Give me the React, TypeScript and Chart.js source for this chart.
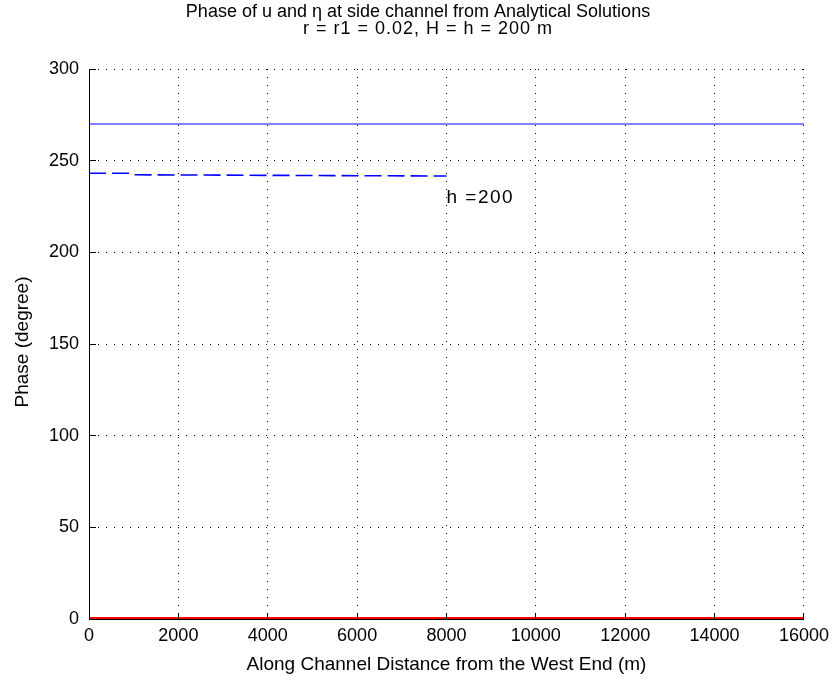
import React, { useEffect, useRef } from "react";
import { Chart, registerables } from "chart.js";

Chart.register(...registerables);

// ---- text ----
const TITLE_LINES = [
  "Phase of u and \u03B7 at side channel from Analytical Solutions",
  "r = r1 = 0.02, H = h = 200 m",
];
const X_LABEL = "Along Channel Distance from the West End (m)";
const Y_LABEL = "Phase (degree)";

// ---- ticks ----
const X_TICKS = [0, 2000, 4000, 6000, 8000, 10000, 12000, 14000, 16000];
const Y_TICKS = [0, 50, 100, 150, 200, 250, 300];

// ---- series ----
const solidX = [0, 16000];
const solidY = [270, 270];

const dashedX = [0, 900, 950, 2000, 4000, 6000, 8000];
const dashedY = [243.1, 243.1, 242.3, 242.2, 242.0, 241.8, 241.6];

const redX = [0, 16000];
const redY = [0, 0];

// ---- annotation ----
const NOTE_TEXT = "h =200";
const NOTE_X = 8000;
const NOTE_Y = 230;

const FONT = '"Liberation Sans", Arial, Helvetica, sans-serif';
const FS = 18;

const toPts = (xs: number[], ys: number[]) => xs.map((x, i) => ({ x, y: ys[i] }));

const matlabPlugin = {
  id: "matlabDecor",
  afterDraw(chart: any) {
    const ctx = chart.ctx;
    const xs = chart.scales.x;
    const ys = chart.scales.y;
    const a = chart.chartArea;
    ctx.save();
    // inward tick marks
    ctx.strokeStyle = "#000";
    ctx.lineWidth = 1;
    ctx.setLineDash([]);
    ctx.beginPath();
    X_TICKS.forEach((v) => {
      const px = Math.floor(xs.getPixelForValue(v)) + 0.5;
      ctx.moveTo(px, a.bottom);
      ctx.lineTo(px, a.bottom - 6);
    });
    Y_TICKS.forEach((v) => {
      const py = Math.floor(ys.getPixelForValue(v)) + 0.5;
      ctx.moveTo(a.left, py);
      ctx.lineTo(a.left + 7, py);
    });
    ctx.stroke();

    ctx.fillStyle = "#000";
    ctx.textBaseline = "middle";
    ctx.textAlign = "center";
    const cx = (a.left + a.right) / 2;
    // title
    ctx.font = `${FS}px ${FONT}`;
    ctx.fillText(TITLE_LINES[0], 418, 12);
    (ctx as any).letterSpacing = "1px";
    ctx.fillText(TITLE_LINES[1], 428, 29);
    (ctx as any).letterSpacing = "0px";
    // x label
    ctx.font = `19px ${FONT}`;
    ctx.fillText(X_LABEL, cx, 665);
    // y label
    ctx.save();
    ctx.font = `19px ${FONT}`;
    ctx.translate(23, (a.top + a.bottom) / 2 - 2);
    ctx.rotate(-Math.PI / 2);
    ctx.fillText(Y_LABEL, 0, 0);
    ctx.restore();
    // annotation
    ctx.font = `19px ${FONT}`;
    (ctx as any).letterSpacing = "1.5px";
    ctx.textAlign = "left";
    ctx.fillText(NOTE_TEXT, xs.getPixelForValue(NOTE_X), ys.getPixelForValue(NOTE_Y));
    (ctx as any).letterSpacing = "0px";
    ctx.restore();
  },
};

export default function App() {
  const ref = useRef<HTMLCanvasElement | null>(null);
  useEffect(() => {
    document.body.style.margin = "0";
    const canvas = ref.current!;
    const chart = new Chart(canvas, {
      type: "line",
      data: {
        datasets: [
          {
            data: toPts(solidX, solidY),
            borderColor: "#0000ff",
            borderWidth: 1,
            pointRadius: 0,
            tension: 0,
          },
          {
            data: toPts(dashedX, dashedY),
            borderColor: "#0000ff",
            borderWidth: 1.6,
            borderDash: [17, 6],
            pointRadius: 0,
            tension: 0,
          },
          {
            data: toPts(redX, redY),
            borderColor: "#ff0000",
            borderWidth: 4,
            pointRadius: 0,
            tension: 0,
            clip: { left: 0, top: 0, right: 0, bottom: 0 },
          } as any,
        ],
      },
      options: {
        animation: false,
        responsive: false,
        maintainAspectRatio: false,
        devicePixelRatio: 1,
        layout: { padding: { top: 69, right: 31, left: 0, bottom: 0 } },
        plugins: {
          legend: { display: false },
          tooltip: { enabled: false },
          title: { display: false },
        },
        scales: {
          x: {
            type: "linear",
            min: 0,
            max: 16000,
            afterBuildTicks: (s: any) => {
              s.ticks = X_TICKS.map((v) => ({ value: v }));
            },
            afterFit: (s: any) => {
              s.height = 65;
            },
            ticks: {
              color: "#000",
              padding: 6,
              maxRotation: 0,
              autoSkip: false,
              font: { family: FONT, size: FS },
              callback: (v: any) => String(v),
            },
            grid: { color: "#000", lineWidth: 1, drawTicks: false },
            border: { display: true, color: "#000", width: 1, dash: [1, 7] },
          },
          y: {
            type: "linear",
            min: 0,
            max: 300,
            afterBuildTicks: (s: any) => {
              s.ticks = Y_TICKS.map((v) => ({ value: v }));
            },
            afterFit: (s: any) => {
              s.width = 89;
            },
            ticks: {
              color: "#000",
              padding: 10,
              autoSkip: false,
              font: { family: FONT, size: FS },
              callback: (v: any) => String(v),
            },
            grid: { color: "#000", lineWidth: 1, drawTicks: false },
            border: { display: true, color: "#000", width: 1, dash: [1, 7] },
          },
        },
      },
      plugins: [matlabPlugin],
    });
    return () => chart.destroy();
  }, []);
  return (
    <div style={{ width: 835, height: 684, background: "#fff" }}>
      <canvas ref={ref} width={835} height={684} style={{ display: "block" }} />
    </div>
  );
}
